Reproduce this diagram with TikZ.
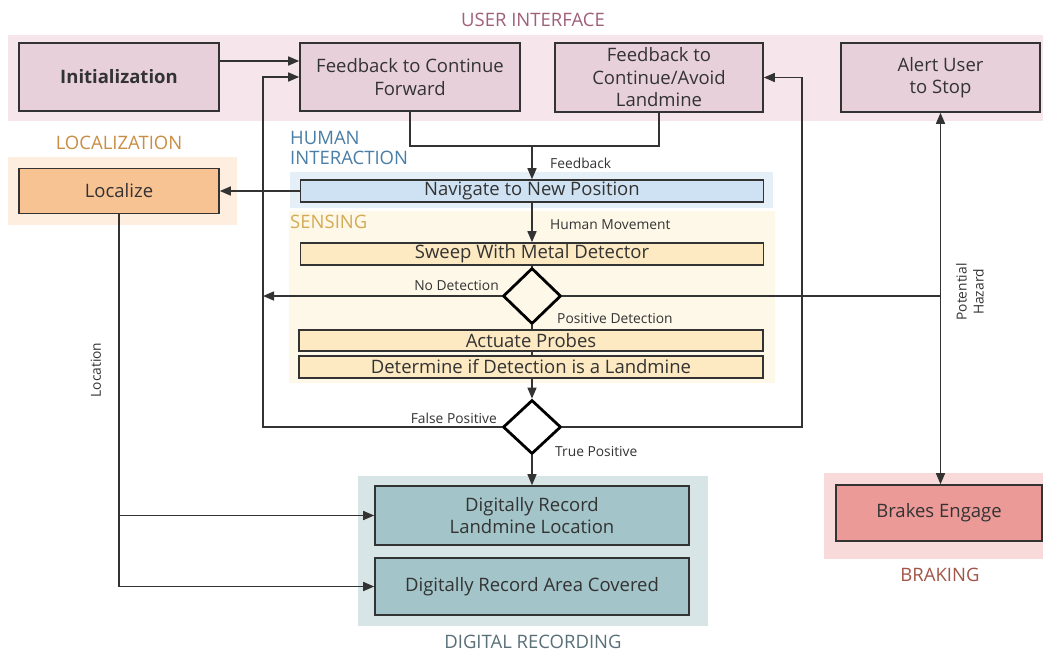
\documentclass[tikz,border=0pt]{standalone}
\usepackage{fontspec}
\setmainfont{Open Sans}
\usetikzlibrary{arrows.meta,shapes.geometric}
\definecolor{linec}{HTML}{333333}
\definecolor{txt}{HTML}{333333}
\definecolor{uiband}{HTML}{F6E6EC}
\definecolor{uibox}{HTML}{E8D0DA}
\definecolor{uilab}{HTML}{A0607A}
\definecolor{locband}{HTML}{FDEEDF}
\definecolor{locbox}{HTML}{F7C393}
\definecolor{loclab}{HTML}{C98D45}
\definecolor{hiband}{HTML}{E4EFF7}
\definecolor{hibox}{HTML}{CFE2F3}
\definecolor{hilab}{HTML}{4A7EA6}
\definecolor{seband}{HTML}{FEF8E8}
\definecolor{sebox}{HTML}{FDE9C2}
\definecolor{selab}{HTML}{D4AA55}
\definecolor{drband}{HTML}{D7E5E7}
\definecolor{drbox}{HTML}{A3C4C8}
\definecolor{drlab}{HTML}{5A7079}
\definecolor{brband}{HTML}{F9DADA}
\definecolor{brbox}{HTML}{EC9A98}
\definecolor{brlab}{HTML}{A25547}
\newcommand\fbig{\fontsize{18.5}{22.5}\selectfont}
\newcommand\fsmall{\fontsize{13.8}{17}\selectfont}
\tikzset{
  box/.style={draw=linec, line width=1.6pt, text=txt, font=\fbig, align=center, inner sep=0pt},
  dia/.style={draw=black, line width=2.8pt, shape=diamond, inner sep=0pt},
  conn/.style={draw=linec, line width=1.5pt},
  arr/.style={conn, -{Triangle[length=11pt,width=9pt]}},
  arrboth/.style={conn, {Triangle[length=11pt,width=9pt]}-{Triangle[length=11pt,width=9pt]}},
  lab/.style={text=txt, font=\fsmall, inner sep=0pt},
  sect/.style={font=\fbig, inner sep=0pt}
}
\begin{document}
\begin{tikzpicture}[x=1pt,y=-1pt]
\useasboundingbox (0,0) rectangle (1043,654);
\fill[white] (0,0) rectangle (1043,654);
% bands
\fill[uiband] (8,35) rectangle (1043,121);
\fill[locband] (8,157) rectangle (237,225);
\fill[seband] (289,211) rectangle (775,383);
\fill[hiband] (290,172) rectangle (773,208);
\fill[drband] (358,476) rectangle (708,626);
\fill[brband] (824,473) rectangle (1043,559);
% section labels
\node[sect, text=uilab] (ulab) at (533,20) {USER INTERFACE};
\node[sect, text=loclab] (llab) at (119,143) {LOCALIZATION};
\node[sect, text=hilab, align=left, anchor=west, font=\fontsize{18.5}{20}\selectfont] (hlab) at (290,148) {HUMAN\\INTERACTION};
\node[sect, text=selab, anchor=west] (slab) at (290,222) {SENSING};
\node[sect, text=drlab] (dlab) at (533,642) {DIGITAL RECORDING};
\node[sect, text=brlab] (blab) at (940,575) {BRAKING};
% boxes
\node[box, fill=uibox, minimum width=200pt, minimum height=68pt, font=\fbig\bfseries] (init) at (119,77) {Initialization};
\node[box, fill=uibox, minimum width=220pt, minimum height=68pt] (fcf) at (410,77) {Feedback to Continue\\Forward};
\node[box, fill=uibox, minimum width=208pt, minimum height=69pt] (fcal) at (659,77.5) {Feedback to\\Continue/Avoid\\Landmine};
\node[box, fill=uibox, minimum width=199pt, minimum height=69pt] (alert) at (940.5,77.5) {Alert User\\to Stop};
\node[box, fill=locbox, minimum width=200pt, minimum height=45pt] (loc) at (119,191) {Localize};
\node[box, fill=hibox, minimum width=463pt, minimum height=22pt] (nav) at (532,191) {Navigate to New Position};
\node[box, fill=sebox, minimum width=463pt, minimum height=22pt] (sweep) at (532,254) {Sweep With Metal Detector};
\node[dia, minimum width=58pt, minimum height=56pt] (d1) at (532,296) {};
\node[box, fill=sebox, minimum width=464pt, minimum height=21pt] (probes) at (531,340.5) {Actuate Probes};
\node[box, fill=sebox, minimum width=464pt, minimum height=22pt] (det) at (531,367) {Determine if Detection is a Landmine};
\node[dia, minimum width=58pt, minimum height=54pt] (d2) at (532,427) {};
\node[box, fill=drbox, minimum width=314pt, minimum height=59pt] (dr1) at (532,515.5) {Digitally Record\\Landmine Location};
\node[box, fill=drbox, minimum width=314pt, minimum height=57pt] (dr2) at (532,586.5) {Digitally Record Area Covered};
\node[box, fill=brbox, minimum width=206pt, minimum height=56pt] (brakes) at (939,513) {Brakes Engage};
% coordinates
\coordinate (fb) at (532,146);
\coordinate (lft) at (263,427);
\coordinate (rgt) at (802,427);
\coordinate (hz) at (940.5,296);
% connectors
\draw[arr] ([yshift=16pt]init.east) -- ([yshift=16pt]fcf.west);
\draw[conn] (fcf.south) |- (fb);
\draw[conn] (fcal.south) |- (fb);
\draw[arr] (fb) -- (nav.north);
\draw[arr] (nav.west) -- (loc.east);
\draw[arr] (nav.south) -- (sweep.north);
\draw[conn] (sweep.south) -- (d1.north);
\draw[conn] (d1.south) -- (d1.south |- probes.north);
\draw[conn] (probes.south -| d1.south) -- (det.north -| d1.south);
\draw[arr] (det.south -| d2.north) -- (d2.north);
\draw[arr] (d2.south) -- (dr1.north);
\draw[arr] (d1.west) -- (d1.west -| lft);
\draw[arr] (d2.west) -- (lft) |- (fcf.west);
\draw[arr] (d2.east) -- (rgt) |- (fcal.east);
\draw[conn] (d1.east) -- (hz);
\draw[arrboth] (alert.south) -- (alert.south |- brakes.north);
\draw[arr] (loc.south) |- (dr1.west);
\draw[arr] (loc.south) |- (dr2.west);
% connector labels
\node[lab, anchor=west] (lfb) at (550,163) {Feedback};
\node[lab, anchor=west] (lhm) at (550,225) {Human Movement};
\node[lab, anchor=east] (lnd) at (499,285) {No Detection};
\node[lab, anchor=west] (lpd) at (557,318) {Positive Detection};
\node[lab, anchor=east] (lfp) at (497,418) {False Positive};
\node[lab, anchor=west] (ltp) at (555,451) {True Positive};
\node[lab, rotate=90] (lloc) at (96,370) {Location};
\node[lab, rotate=90, align=center] (lph) at (970,292) {Potential\\Hazard};
\end{tikzpicture}
\end{document}
